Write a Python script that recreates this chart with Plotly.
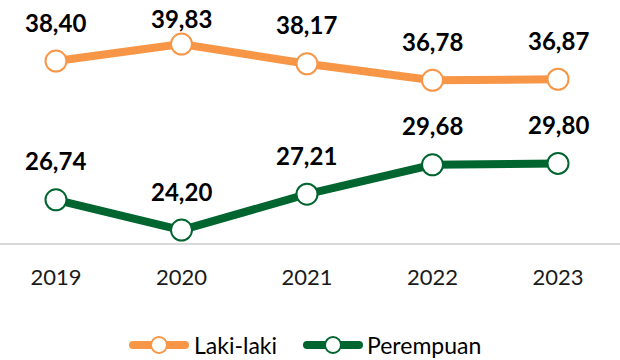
import plotly.graph_objects as go

years = ["2019", "2020", "2021", "2022", "2023"]
laki_laki = [38.40, 39.83, 38.17, 36.78, 36.87]
perempuan = [26.74, 24.20, 27.21, 29.68, 29.80]

ORANGE = "#F79646"
GREEN = "#00652F"
FONT = "Lato, Carlito, Calibri, sans-serif"

W, H = 620, 360
M_BOTTOM = 117
PLOT_H = H - M_BOTTOM
Y_RANGE = [23.11, 43.53]
LABEL_GAP = 39      # px between marker centre and its value label
LABEL_MIN_Y = 19    # keep labels inside the top edge


def y_to_px(v):
    return PLOT_H * (Y_RANGE[1] - v) / (Y_RANGE[1] - Y_RANGE[0])


fig = go.Figure()
series = [("Laki-laki", laki_laki, ORANGE), ("Perempuan", perempuan, GREEN)]
for name, vals, col in series:
    fig.add_trace(go.Scatter(
        x=list(range(len(years))), y=vals, name=name, mode="lines+markers",
        line=dict(color=col, width=8),
        marker=dict(size=21, color="white", line=dict(color=col, width=2)),
        hoverinfo="skip", showlegend=False,
    ))
    for i, v in enumerate(vals):
        py = y_to_px(v)
        shift = min(LABEL_GAP, py - LABEL_MIN_Y)
        fig.add_annotation(
            x=i, y=v, text=f"{v:.2f}".replace(".", ","), showarrow=False,
            yshift=shift, xanchor="center", yanchor="middle",
            font=dict(family=FONT, size=24, color="black", weight="bold"),
        )

# legend drawn below the axis: thick rounded line with a hollow circle, then the name
legend_y = (PLOT_H - 345) / PLOT_H
legend_items = [(159, 192), (333, 365)]
for (cx, tx), (name, _, col) in zip(legend_items, series):
    xa = cx / W
    common = dict(xref="paper", yref="paper", xsizemode="pixel", ysizemode="pixel",
                  xanchor=xa, yanchor=legend_y)
    fig.add_shape(type="line", x0=-26, x1=26, y0=0, y1=0,
                  line=dict(color=col, width=8), **common)
    for ex in (-26, 26):
        fig.add_shape(type="circle", x0=ex - 4, x1=ex + 4, y0=-4, y1=4,
                      fillcolor=col, line=dict(width=0), **common)
    fig.add_shape(type="circle", x0=-8, x1=8, y0=-8, y1=8, fillcolor="white",
                  line=dict(color=col, width=2), **common)
    fig.add_annotation(xref="paper", yref="paper", x=tx / W, y=legend_y, text=name,
                       showarrow=False, xanchor="left", yanchor="middle",
                       font=dict(family=FONT, size=23, color="black"))

fig.update_layout(
    width=W, height=H,
    margin=dict(l=0, r=0, t=0, b=M_BOTTOM),
    paper_bgcolor="white", plot_bgcolor="white",
    showlegend=False,
    font=dict(family=FONT),
)
fig.update_xaxes(
    range=[-0.446, 4.494], tickmode="array", tickvals=list(range(len(years))), ticktext=years,
    showgrid=False, zeroline=False, showline=True, linecolor="#D9D9D9", linewidth=2,
    ticks="", tickfont=dict(family=FONT, size=22, color="#1a1a1a"), ticklabelstandoff=14,
)
fig.update_yaxes(range=Y_RANGE, visible=False, showgrid=False)

fig.write_html("out.html")
